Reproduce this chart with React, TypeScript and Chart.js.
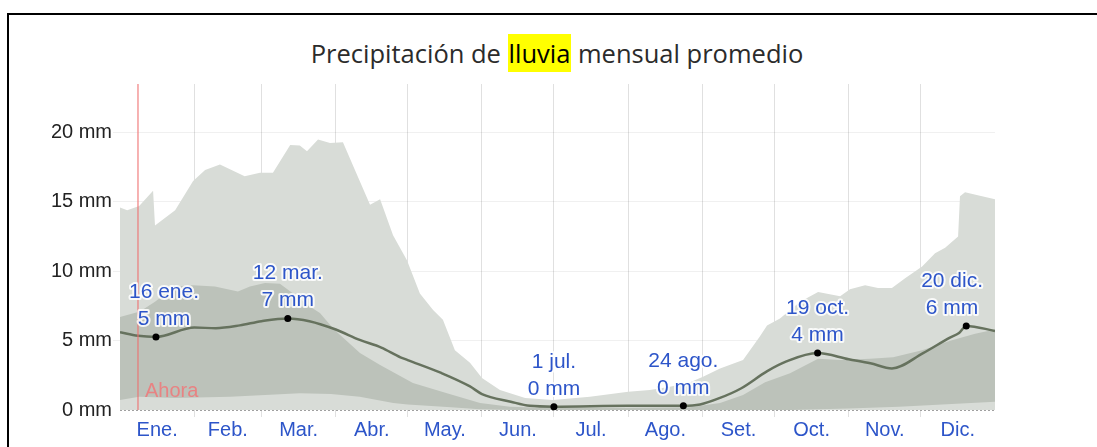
import React, { useEffect, useRef } from "react";
import { Chart, registerables } from "chart.js";

Chart.register(...registerables);

// ---- Data ----
const monthLabels = ["Ene.", "Feb.", "Mar.", "Abr.", "May.", "Jun.", "Jul.", "Ago.", "Set.", "Oct.", "Nov.", "Dic."];
const monthStartDays = [0, 31, 59, 90, 120, 151, 181, 212, 243, 273, 304, 334, 365];
const yTickValues = [0, 5, 10, 15, 20];
const yUnit = " mm";

const titleBefore = "Precipitación de ";
const titleHighlight = "lluvia";
const titleAfter = " mensual promedio";

const nowDay = 7.5;
const nowLabel = "Ahora";

// 90th percentile (top of light band)
const p90Days = [0, 3, 8, 13.8, 14.6, 23, 30.5, 35.5, 41.7, 52, 58.4, 63.8, 71, 75, 78, 82.6, 87.6, 93, 98, 104.3, 108.5, 113.9, 119.7, 125.1, 130.6, 134.7, 139.7, 146, 151, 158.5, 169, 180.6, 196, 212, 221, 229.4, 237.8, 243.2, 250.3, 259.9, 266.9, 269.9, 275.3, 283.7, 291.2, 300.4, 304.5, 310.8, 316.2, 322, 327.5, 334.6, 340, 344.2, 349.6, 350.4, 352.5, 358.7, 365];
const p90Values = [14.6, 14.4, 14.7, 15.8, 13.3, 14.4, 16.5, 17.3, 17.7, 16.85, 17.1, 17.1, 19.1, 19.06, 18.65, 19.5, 19.25, 19.3, 17.3, 14.8, 15.2, 12.6, 10.8, 8.4, 7.2, 6.5, 4.3, 3.4, 2.3, 1.44, 0.87, 0.72, 0.96, 1.32, 1.44, 1.68, 2.0, 2.4, 3.0, 3.6, 5.3, 6.1, 6.6, 7.8, 8.5, 8.2, 8.7, 9.0, 8.8, 8.8, 9.5, 10.35, 11.3, 11.7, 12.5, 15.4, 15.7, 15.45, 15.2];

// 75th percentile (top of dark band)
const p75Days = [0, 8.3, 14.6, 22.9, 30.5, 39.6, 49.2, 54.2, 60.5, 66.7, 72.2, 79.3, 83.4, 89.3, 100.1, 108.5, 122.2, 136.4, 150.2, 162.7, 179.4, 208.6, 237.8, 250.3, 259.9, 269.1, 279.5, 291.2, 300.4, 312.9, 322.5, 334.6, 346.3, 356.7, 365];
const p75Values = [6.7, 7.1, 7.8, 8.9, 9.0, 8.9, 8.55, 8.9, 9.15, 9.1, 8.4, 7.45, 7.0, 5.8, 4.1, 3.25, 1.95, 1.2, 0.5, 0.24, 0.15, 0.15, 0.2, 0.5, 1.08, 2.0, 2.65, 3.7, 3.6, 3.7, 3.8, 4.3, 5.0, 5.5, 5.8];

// 25th percentile (bottom of dark band)
const p25Days = [0, 8, 23, 46, 75, 88, 100, 114, 120, 138, 150, 165, 280, 304, 325, 345, 365];
const p25Values = [0.72, 0.96, 0.87, 0.96, 1.2, 1.15, 0.96, 0.5, 0.4, 0.2, 0.05, 0, 0, 0.1, 0.24, 0.42, 0.6];

// average rainfall
const meanDays = [0, 7.5, 15, 31, 40, 50, 59, 70, 79, 90, 100, 109, 117, 120, 134, 146, 151, 163, 171, 181, 212, 235, 242, 250, 259, 270, 278, 291, 304, 313, 322, 335, 346, 350, 353, 365];
const meanValues = [5.6, 5.35, 5.27, 5.94, 5.9, 6.1, 6.4, 6.6, 6.4, 5.8, 5.05, 4.5, 3.8, 3.6, 2.67, 1.7, 1.15, 0.6, 0.3, 0.24, 0.3, 0.3, 0.4, 0.85, 1.55, 2.8, 3.5, 4.1, 3.66, 3.37, 3.0, 4.1, 5.2, 5.55, 6.06, 5.7];

// highlighted points
const highlightDays = [15, 70, 181, 235, 291, 353];
const highlightValues = [5.27, 6.6, 0.24, 0.3, 4.1, 6.06];
const highlightDates = ["16 ene.", "12 mar.", "1 jul.", "24 ago.", "19 oct.", "20 dic."];

// ---- Helpers ----
const toXY = (days: number[], values: number[]) => days.map((d, i) => ({ x: d, y: values[i] }));
const midDays = monthLabels.map((_, i) => (monthStartDays[i] + monthStartDays[i + 1]) / 2);

const FONT = '"Liberation Sans", Arial, sans-serif';
const LIGHT = "#d8dcd7";
const DARK = "#bcc2ba";
const BLUE = "#2d55c9";
const LABEL_MARGIN_LEFT = 9;
const LABEL_MARGIN_RIGHT = 12;

const overlayPlugin = {
  id: "overlay",
  afterDraw(chart: any) {
    const { ctx, chartArea } = chart;
    const x = chart.scales.x;
    const y = chart.scales.y;
    ctx.save();
    // dotted zero line
    const zy = Math.round(y.getPixelForValue(0)) + 0.5;
    ctx.strokeStyle = "#a0a0a0";
    ctx.lineWidth = 1;
    ctx.setLineDash([2, 2]);
    ctx.beginPath();
    ctx.moveTo(chartArea.left, zy);
    ctx.lineTo(chartArea.right, zy);
    ctx.stroke();
    ctx.setLineDash([]);

    // "now" line
    const nx = x.getPixelForValue(nowDay);
    ctx.strokeStyle = "rgba(240,110,110,0.7)";
    ctx.lineWidth = 1.5;
    ctx.beginPath();
    ctx.moveTo(nx, chartArea.top);
    ctx.lineTo(nx, chartArea.bottom);
    ctx.stroke();
    ctx.font = `20px ${FONT}`;
    ctx.textAlign = "left";
    ctx.textBaseline = "alphabetic";
    ctx.fillStyle = "#e88383";
    ctx.fillText(nowLabel, nx + 7, chartArea.bottom - 13);

    // highlight labels
    ctx.font = `21px ${FONT}`;
    ctx.textAlign = "center";
    ctx.lineJoin = "round";
    highlightDays.forEach((d, i) => {
      const px = x.getPixelForValue(d);
      const py = y.getPixelForValue(highlightValues[i]);
      const lines = [highlightDates[i], `${Math.round(highlightValues[i])}${yUnit}`];
      const half = Math.max(...lines.map((t) => ctx.measureText(t).width)) / 2;
      const cx = Math.min(
        Math.max(px, chartArea.left + LABEL_MARGIN_LEFT + half),
        chartArea.right - LABEL_MARGIN_RIGHT - half
      );
      const base2 = py - 12;
      const base1 = base2 - 27;
      [base1, base2].forEach((by, j) => {
        ctx.strokeStyle = "rgba(255,255,255,0.85)";
        ctx.lineWidth = 4;
        ctx.strokeText(lines[j], cx, by);
        ctx.fillStyle = BLUE;
        ctx.fillText(lines[j], cx, by);
      });
      ctx.fillStyle = "#000";
      ctx.beginPath();
      ctx.arc(px, py, 3.5, 0, Math.PI * 2);
      ctx.fill();
    });
    ctx.restore();
  },
};

export default function App() {
  const canvasRef = useRef<HTMLCanvasElement | null>(null);

  useEffect(() => {
    if (!canvasRef.current) return;
    const chart = new Chart(canvasRef.current, {
      type: "line",
      data: {
        datasets: [
          {
            label: "Promedio",
            data: toXY(meanDays, meanValues),
            borderColor: "#66725e",
            borderWidth: 2.5,
            pointRadius: 0,
            cubicInterpolationMode: "monotone",
            fill: false,
            order: 0,
          },
          {
            label: "p25",
            data: toXY(p25Days, p25Values),
            borderColor: "transparent",
            borderWidth: 0,
            backgroundColor: LIGHT,
            pointRadius: 0,
            tension: 0,
            fill: "origin",
            order: 1,
          },
          {
            label: "p75",
            data: toXY(p75Days, p75Values),
            borderColor: "transparent",
            borderWidth: 0,
            backgroundColor: DARK,
            pointRadius: 0,
            tension: 0,
            fill: "origin",
            order: 2,
          },
          {
            label: "p90",
            data: toXY(p90Days, p90Values),
            borderColor: "transparent",
            borderWidth: 0,
            backgroundColor: LIGHT,
            pointRadius: 0,
            tension: 0,
            fill: "origin",
            order: 3,
          },
        ],
      },
      options: {
        animation: false,
        responsive: false,
        events: [],
        layout: { padding: { left: 0, top: 84, right: 102, bottom: 0 } },
        plugins: {
          legend: { display: false },
          title: { display: false },
          tooltip: { enabled: false },
        },
        scales: {
          x: {
            type: "linear",
            min: 0,
            max: 365,
            z: 1,
            afterBuildTicks: (s: any) => {
              s.ticks = [...monthStartDays, ...midDays]
                .sort((a, b) => a - b)
                .map((v) => ({ value: v }));
            },
            afterFit: (s: any) => {
              s.height = 37;
            },
            ticks: {
              autoSkip: false,
              maxRotation: 0,
              padding: 1,
              color: BLUE,
              font: { family: FONT, size: 20 },
              callback: (v: any) => {
                const i = midDays.indexOf(Number(v));
                return i >= 0 ? monthLabels[i] : "";
              },
            },
            grid: {
              tickLength: 7,
              color: (c: any) => {
                const v = c.tick ? c.tick.value : -1;
                return monthStartDays.includes(v) && v !== 0 && v !== 365 ? "rgba(0,0,0,0.12)" : "transparent";
              },
            },
            border: { display: false },
          },
          y: {
            type: "linear",
            min: 0,
            max: 23.5,
            z: 1,
            afterBuildTicks: (s: any) => {
              s.ticks = yTickValues.map((v) => ({ value: v }));
            },
            afterFit: (s: any) => {
              s.width = 120;
            },
            ticks: {
              padding: 1,
              color: "#222",
              font: { family: FONT, size: 20 },
              callback: (v: any) => `${v}${yUnit}`,
            },
            grid: {
              tickLength: 7,
              color: (c: any) => (c.tick && c.tick.value === 0 ? "transparent" : "rgba(0,0,0,0.06)"),
            },
            border: { display: false },
          },
        },
      },
      plugins: [overlayPlugin],
    } as any);
    return () => chart.destroy();
  }, []);

  return (
    <div style={{ position: "fixed", left: 0, top: 0, width: "100vw", height: "100vh", overflow: "hidden", background: "#fff" }}>
      <div
        style={{
          position: "absolute",
          left: 7,
          top: 13,
          width: 2000,
          height: 2000,
          borderTop: "2px solid #000",
          borderLeft: "2px solid #000",
        }}
      />
      <div
        style={{
          position: "absolute",
          left: 0,
          top: 38,
          width: 1114,
          textAlign: "center",
          fontFamily: '"Open Sans", sans-serif',
          fontSize: 25.5,
          lineHeight: "30px",
          color: "#2b2b2b",
          whiteSpace: "nowrap",
        }}
      >
        {titleBefore}
        <span style={{ background: "#ffff00", color: "#000", padding: "2px 1px" }}>{titleHighlight}</span>
        {titleAfter}
      </div>
      <canvas
        ref={canvasRef}
        width={1097}
        height={447}
        style={{ position: "absolute", left: 0, top: 0, width: 1097, height: 447 }}
      />
    </div>
  );
}
